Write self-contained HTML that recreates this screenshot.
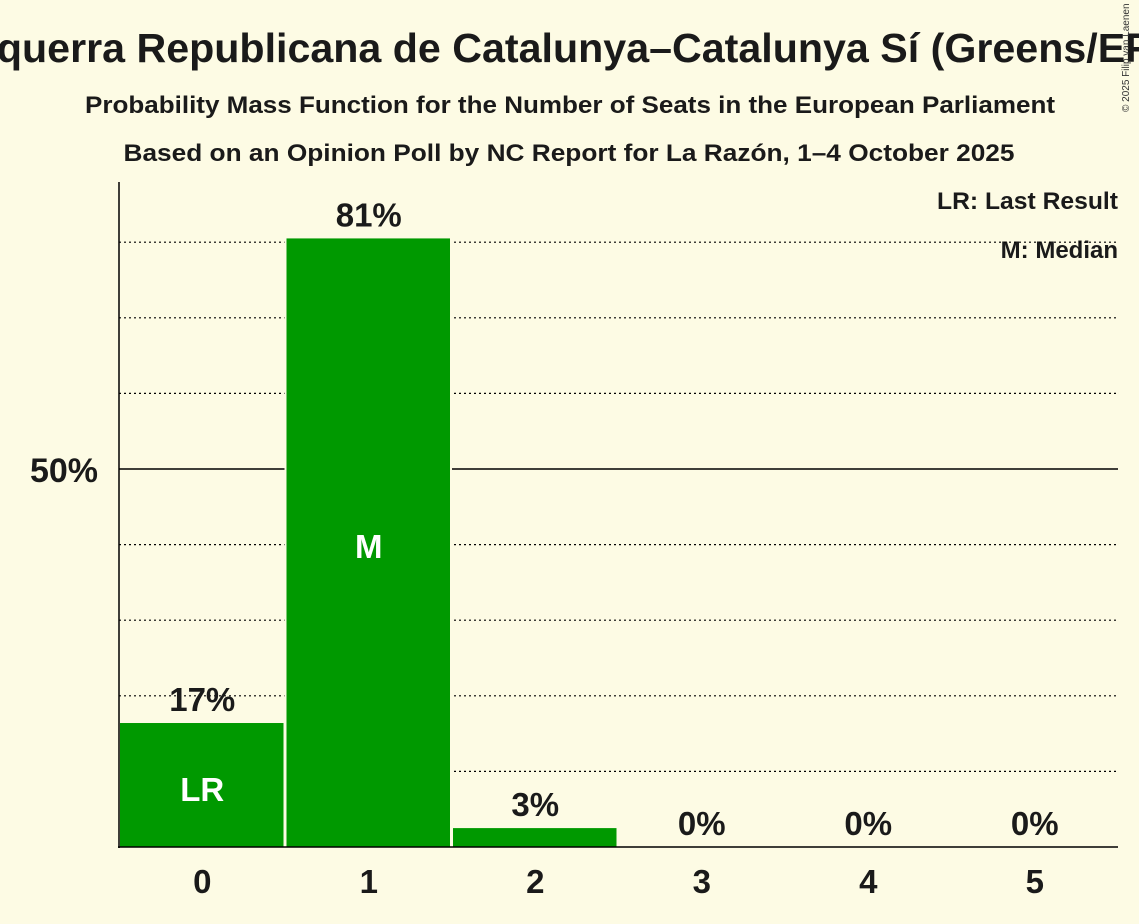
<!DOCTYPE html>
<html><head><meta charset="utf-8"><style>
body{margin:0;background:#fdfbe4;}
svg{display:block;font-family:"Liberation Sans",sans-serif;}
</style></head><body>
<svg id="c" width="1139" height="924">
<rect width="1139" height="924" fill="#fdfbe4"/>
<text x="569" y="62" text-anchor="middle" font-size="41" font-weight="bold" fill="#1a1a1a" textLength="1245" lengthAdjust="spacingAndGlyphs">Esquerra Republicana de Catalunya–Catalunya Sí (Greens/EFA)</text>
<text x="570" y="113" text-anchor="middle" font-size="24" font-weight="bold" fill="#1a1a1a" textLength="970" lengthAdjust="spacingAndGlyphs">Probability Mass Function for the Number of Seats in the European Parliament</text>
<text x="569" y="161" text-anchor="middle" font-size="24" font-weight="bold" fill="#1a1a1a" textLength="891" lengthAdjust="spacingAndGlyphs">Based on an Opinion Poll by NC Report for La Razón, 1–4 October 2025</text>
<text x="1129" y="112" transform="rotate(-90 1129 112)" font-size="10" fill="#333">© 2025 Filip van Laenen</text>
<text x="1118" y="209" text-anchor="end" font-size="24" font-weight="bold" fill="#1a1a1a" textLength="181" lengthAdjust="spacingAndGlyphs">LR: Last Result</text>
<text x="1118" y="258" text-anchor="end" font-size="24" font-weight="bold" fill="#1a1a1a">M: Median</text>
<g id="grid"></g>
<g id="bars"></g>
<line x1="119" y1="182" x2="119" y2="848" stroke="#000" stroke-width="1.5"/>
<line x1="118" y1="847" x2="1118" y2="847" stroke="#000" stroke-width="1.5"/>
<text x="98" y="482" text-anchor="end" font-size="34" font-weight="bold" fill="#1a1a1a">50%</text>
</svg>
<script>
const categories=[0,1,2,3,4,5];
const values=[16.4,80.5,2.5,0,0,0];
const labels=["17%","81%","3%","0%","0%","0%"];
const gridTicks=[10,20,30,40,60,70,80];
const x0=119,step=166.5,base=847,scale=7.56;
const ns="http://www.w3.org/2000/svg";
const y=v=>base-v*scale;
const g=document.getElementById('grid'),b=document.getElementById('bars');
gridTicks.forEach(t=>{const l=document.createElementNS(ns,'line');
l.setAttribute('x1',x0);l.setAttribute('x2',1118);l.setAttribute('y1',y(t));l.setAttribute('y2',y(t));
l.setAttribute('stroke','#000');l.setAttribute('stroke-dasharray','2,3');l.setAttribute('stroke-width','1.2');


g.appendChild(l);});
const m=document.createElementNS(ns,'line');
m.setAttribute('x1',x0);m.setAttribute('x2',1118);m.setAttribute('y1',y(50));m.setAttribute('y2',y(50));
m.setAttribute('stroke','#000');m.setAttribute('stroke-width','1.5');


g.appendChild(m);
categories.forEach((c,i)=>{
 const bx=x0+i*step+1, w=step-3, top=y(values[i]);
 if(values[i]>0){
  const bg=document.createElementNS(ns,'rect');
  bg.setAttribute('x',bx-2);bg.setAttribute('y',top-1);bg.setAttribute('width',w+4);bg.setAttribute('height',base-top+1);bg.setAttribute('fill','#fdfbe4');
  
  
  b.appendChild(bg);
  const r=document.createElementNS(ns,'rect');
  r.setAttribute('x',bx);r.setAttribute('y',top);r.setAttribute('width',w);r.setAttribute('height',base-top);r.setAttribute('fill','#009900');
  
  
  b.appendChild(r);
 }
 const cx=x0+(i+0.5)*step;
 const t=document.createElementNS(ns,'text');
 t.setAttribute('x',cx);t.setAttribute('y',top-12);t.setAttribute('text-anchor','middle');
 t.setAttribute('font-size','33');t.setAttribute('font-weight','bold');t.setAttribute('fill','#1a1a1a');
 t.textContent=labels[i];
 
 
 b.appendChild(t);
 const xt=document.createElementNS(ns,'text');
 xt.setAttribute('x',cx);xt.setAttribute('y',893);xt.setAttribute('text-anchor','middle');
 xt.setAttribute('font-size','33');xt.setAttribute('font-weight','bold');xt.setAttribute('fill','#1a1a1a');
 xt.textContent=c;
 
 
 b.appendChild(xt);
});
function inner(i,txt,name,yy){const t=document.createElementNS(ns,'text');
 t.setAttribute('x',x0+(i+0.5)*step);t.setAttribute('y',yy);t.setAttribute('text-anchor','middle');
 t.setAttribute('font-size','33');t.setAttribute('font-weight','bold');t.setAttribute('fill','#fff');
 t.textContent=txt;
 
 
 b.appendChild(t);}
inner(0,'LR','last-result-marker',801);
inner(1,'M','median-marker',558);
</script>
</body></html>
